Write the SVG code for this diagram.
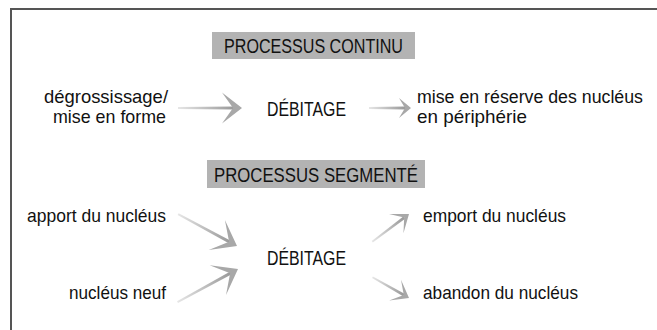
<svg xmlns="http://www.w3.org/2000/svg" width="657" height="330" viewBox="0 0 657 330">
<style>
text{font-family:"Liberation Sans Narrow","Liberation Sans",Arial,sans-serif;font-size:19px;fill:#111}
.cap{font-size:19.5px}
.sm{font-size:18px}
.box{fill:#b3b3b3}
.head{fill:#a8a8a8}
.shaft{fill:url(#sg)}
.frame{fill:none;stroke:#555;stroke-width:2}
</style>
<defs>
<linearGradient id="sg" x1="0" y1="0" x2="1" y2="0">
<stop offset="0" stop-color="#e6e6e6"/>
<stop offset="1" stop-color="#999"/>
</linearGradient>
</defs>
<path class="frame" d="M11,331 V9 H658"/>
<g id="title-continu">
<rect class="box" x="212" y="32" width="203" height="27"/>
<text class="cap" x="224" y="53" textLength="179" lengthAdjust="spacingAndGlyphs">PROCESSUS CONTINU</text>
</g>
<g id="degrossissage">
<text x="44" y="103" textLength="124" lengthAdjust="spacingAndGlyphs">dégrossissage/</text>
<text x="53" y="123" textLength="113" lengthAdjust="spacingAndGlyphs">mise en forme</text>
</g>
<g id="debitage1"><text class="cap" x="267" y="116" textLength="79" lengthAdjust="spacingAndGlyphs">DÉBITAGE</text></g>
<g id="reserve">
<text class="sm" x="417" y="103" textLength="226" lengthAdjust="spacingAndGlyphs">mise en réserve des nucléus</text>
<text x="417" y="123" textLength="110" lengthAdjust="spacingAndGlyphs">en périphérie</text>
</g>
<g id="title-segmente">
<rect class="box" x="207" y="160" width="218" height="28"/>
<text class="cap" x="214" y="182" textLength="204" lengthAdjust="spacingAndGlyphs">PROCESSUS SEGMENTÉ</text>
</g>
<g id="apport"><text x="27" y="222" textLength="139" lengthAdjust="spacingAndGlyphs">apport du nucléus</text></g>
<g id="neuf"><text x="69" y="299" textLength="97" lengthAdjust="spacingAndGlyphs">nucléus neuf</text></g>
<g id="debitage2"><text class="cap" x="267" y="265" textLength="79" lengthAdjust="spacingAndGlyphs">DÉBITAGE</text></g>
<g id="emport"><text x="423" y="222" textLength="143" lengthAdjust="spacingAndGlyphs">emport du nucléus</text></g>
<g id="abandon"><text x="423" y="299" textLength="155" lengthAdjust="spacingAndGlyphs">abandon du nucléus</text></g>
<g id="connectors">
<g transform="translate(242,108)">
<path class="shaft" d="M-64,-1 L-8,-1.6 L-8,1.6 L-64,1 Z"/>
<path class="head" d="M0,0 L-20,-15.5 L-9,0 L-20,15.5 Z"/>
</g>
<g transform="translate(411,108)">
<path class="shaft" d="M-42,-0.9 L-6,-1.4 L-6,1.4 L-42,0.9 Z"/>
<path class="head" d="M0,0 L-12,-10 L-6,0 L-12,10 Z"/>
</g>
<g transform="translate(237,246) rotate(28.5)">
<path class="shaft" d="M-67,-1 L-8,-1.6 L-8,1.6 L-67,1 Z"/>
<path class="head" d="M0,0 L-23,-17 L-9,0 L-23,17 Z"/>
</g>
<g transform="translate(238,269) rotate(-28.8)">
<path class="shaft" d="M-69,-1 L-8,-1.6 L-8,1.6 L-69,1 Z"/>
<path class="head" d="M0,0 L-23,-17 L-9,0 L-23,17 Z"/>
</g>
<g transform="translate(409,214) rotate(-37)">
<path class="shaft" d="M-46,-0.9 L-6,-1.5 L-6,1.5 L-46,0.9 Z"/>
<path class="head" d="M0,0 L-16,-12 L-6,0 L-16,12 Z"/>
</g>
<g transform="translate(409,298) rotate(29.6)">
<path class="shaft" d="M-42,-0.9 L-6,-1.5 L-6,1.5 L-42,0.9 Z"/>
<path class="head" d="M0,0 L-16,-12 L-6,0 L-16,12 Z"/>
</g>
</g>
</svg>
